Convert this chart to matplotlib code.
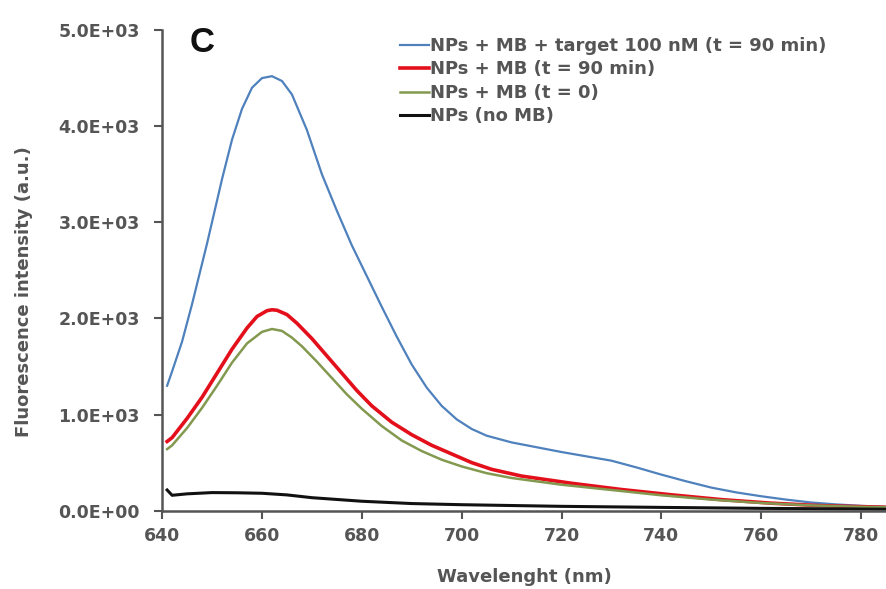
import numpy as np
import matplotlib.pyplot as plt
from matplotlib.ticker import FuncFormatter

# wavelength (nm) / intensity (a.u.)
wl_target = [641, 642, 644, 646, 649, 652, 654, 656, 658, 660, 662, 664, 666, 669, 672,
             675, 678, 681, 684, 687, 690, 693, 696, 699, 702, 705, 710, 715, 720, 725,
             730, 735, 740, 745, 750, 755, 760, 765, 770, 775, 780, 785]
int_target = [1300, 1450, 1760, 2150, 2780, 3450, 3860, 4180, 4400, 4500, 4520, 4470,
              4330, 3960, 3500, 3120, 2760, 2440, 2120, 1810, 1520, 1280, 1090, 950,
              850, 780, 710, 660, 610, 565, 520, 450, 375, 305, 240, 190, 150, 115, 85,
              65, 50, 40]

wl_mb90 = [641, 642, 645, 648, 651, 654, 657, 659, 661, 662, 663, 665, 667, 670, 673,
           676, 679, 682, 686, 690, 694, 698, 702, 706, 712, 722, 732, 742, 752, 762,
           772, 785]
int_mb90 = [720, 760, 960, 1180, 1430, 1680, 1900, 2020, 2080, 2090, 2085, 2040, 1950,
            1790, 1610, 1430, 1250, 1090, 920, 790, 680, 590, 500, 430, 360, 285, 220,
            165, 115, 78, 52, 35]

wl_mb0 = [641, 642, 645, 648, 651, 654, 657, 660, 662, 664, 666, 668, 671, 674, 677,
          680, 684, 688, 692, 696, 700, 705, 710, 720, 730, 740, 750, 760, 770, 780, 785]
int_mb0 = [640, 680, 860, 1070, 1300, 1540, 1740, 1860, 1890, 1870, 1800, 1710, 1550,
           1380, 1210, 1060, 880, 730, 620, 530, 460, 390, 340, 270, 215, 160, 115, 80,
           55, 40, 35]

wl_nps = [641, 642, 645, 650, 655, 660, 665, 670, 680, 690, 700, 720, 740, 760, 780, 785]
int_nps = [215, 160, 175, 188, 186, 181, 164, 135, 98, 74, 62, 45, 34, 24, 17, 15]

labels = ['NPs + MB + target 100 nM (t = 90 min)', 'NPs + MB (t = 90 min)',
          'NPs + MB (t = 0)', 'NPs (no MB)']

plt.rcParams['font.family'] = ['DejaVu Sans']
txt = '#555555'

fig = plt.figure(figsize=(8.86, 5.89), dpi=100)
ax = fig.add_axes([0.183, 0.133, 0.817, 0.816])

ax.plot(wl_target, int_target, color='#4f81bd', lw=1.6, label=labels[0])
ax.plot(wl_mb90, int_mb90, color='#e3101c', lw=2.6, label=labels[1])
ax.plot(wl_mb0, int_mb0, color='#83994f', lw=1.8, label=labels[2])
ax.plot(wl_nps, int_nps, color='#111111', lw=2.2, label=labels[3])

ax.set_xlim(640, 785)
ax.set_ylim(0, 5000)
ax.set_xticks(np.arange(640, 781, 20))
ax.set_yticks(np.arange(0, 5001, 1000))
ax.yaxis.set_major_formatter(FuncFormatter(lambda v, p: '%.1E' % v))

for s in ['top', 'right']:
    ax.spines[s].set_visible(False)
for s in ['left', 'bottom']:
    ax.spines[s].set_color('#555555')
    ax.spines[s].set_linewidth(1.8)
ax.tick_params(direction='out', length=6, width=1.5, color='#555555',
               labelsize=12.5, labelcolor=txt)
ax.tick_params(axis='y', pad=10)
ax.tick_params(axis='x', pad=6)
for lab in ax.get_xticklabels() + ax.get_yticklabels():
    lab.set_fontweight('bold')

ax.set_xlabel('Wavelenght (nm)', fontsize=13, fontweight='bold', color=txt, labelpad=16)
ax.set_ylabel('Fluorescence intensity (a.u.)', fontsize=13, fontweight='bold', color=txt)
ax.yaxis.set_label_coords(-0.178, 0.455)

fig.text(190 / 886, 1 - 26 / 589, 'C', fontsize=25, fontweight='bold',
         va='top', ha='left', color='#111111', family='Liberation Sans')

leg = fig.legend(loc='upper left', bbox_to_anchor=(400 / 886, 1 - 37 / 589), frameon=False,
                 handlelength=1.6, handletextpad=0.05, labelspacing=0.3,
                 borderpad=0, borderaxespad=0,
                 prop={'size': 13, 'weight': 'bold'})
for t in leg.get_texts():
    t.set_color(txt)

fig.savefig('out.png', dpi=100)
